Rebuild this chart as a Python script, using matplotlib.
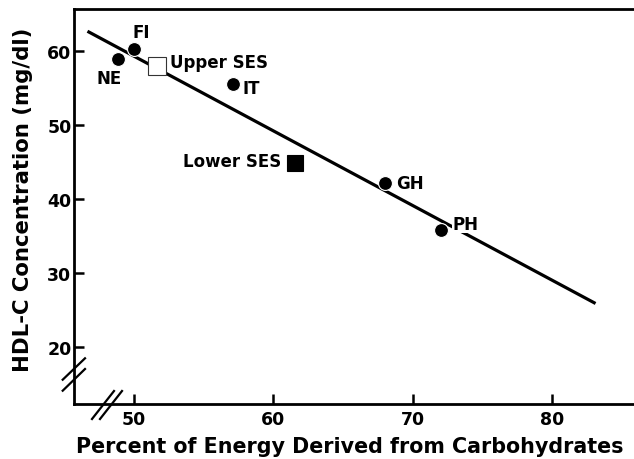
import matplotlib.pyplot as plt
from matplotlib.lines import Line2D

plt.rcParams['font.family'] = ['DejaVu Sans']
plt.rcParams['font.weight'] = 'bold'

# country means (circles)
countries = ['NE', 'FI', 'IT', 'GH', 'PH']
carb_pct = [48.9, 50.0, 57.1, 68.0, 72.0]
hdl = [58.9, 60.2, 55.5, 42.2, 35.8]

# socio-economic groups (squares)
ses_names = ['Upper SES', 'Lower SES']
ses_carb = [51.65, 61.6]
ses_hdl = [57.85, 44.8]

# regression line end points
fit_x = [46.7, 83.1]
fit_y = [62.6, 25.9]

xticks = [50, 60, 70, 80]
yticks = [20, 30, 40, 50, 60]

W, H = 634, 460
fig = plt.figure(figsize=(W / 100, H / 100), dpi=100)
ax_l, ax_b, ax_t = 73.5, 405, 10
ax = fig.add_axes([ax_l / W, 1 - ax_b / H, 1 - ax_l / W + 0.001, (ax_b - ax_t) / H])

ax.plot(fit_x, fit_y, color='black', lw=2.3, solid_capstyle='butt', zorder=2)

ax.plot(carb_pct, hdl, 'o', color='black', ms=10, mec='white', mew=0.8, zorder=3)
ax.plot(ses_carb[0], ses_hdl[0], 's', mfc='white', mec='#333333', mew=0.8, ms=13, zorder=3)
ax.plot(ses_carb[1], ses_hdl[1], 's', mfc='black', mec='black', mew=0.8, ms=12, zorder=3)

fs = 12
offsets = {'NE': (-6.5, -13.9, 'center'), 'FI': (5.8, 12.5, 'center'),
           'IT': (6.8, -2.9, 'left'), 'GH': (8.0, 0.0, 'left'), 'PH': (8.4, 4.5, 'left')}
for name, x, y in zip(countries, carb_pct, hdl):
    dx, dy, ha = offsets[name]
    kw = {}
    if name == 'PH':
        kw['bbox'] = dict(facecolor='white', edgecolor='none', pad=0.5)
    ax.annotate(name, (x, y), xytext=(dx, dy), textcoords='offset points',
                ha=ha, va='center', fontsize=fs, fontweight='bold', zorder=4, **kw)

ax.annotate(ses_names[0], (ses_carb[0], ses_hdl[0]), xytext=(9.9, 3.2), textcoords='offset points',
            ha='left', va='center', fontsize=fs, fontweight='bold')
ax.annotate(ses_names[1], (ses_carb[1], ses_hdl[1]), xytext=(-10, 1.9), textcoords='offset points',
            ha='right', va='center', fontsize=fs, fontweight='bold')

ax.set_xlim(45.7, 85.9)
ax.set_ylim(12.35, 65.6)
ax.set_xticks(xticks)
ax.set_yticks(yticks)
ax.tick_params(direction='in', length=7, width=1.8, labelsize=12.5)
ax.tick_params(axis='y', pad=1.5)
ax.tick_params(axis='x', pad=4)
for lab in ax.get_xticklabels() + ax.get_yticklabels():
    lab.set_fontweight('bold')
for side in ['left', 'bottom', 'top']:
    ax.spines[side].set_linewidth(2)
ax.spines['right'].set_visible(False)

ax.set_xlabel('Percent of Energy Derived from Carbohydrates', fontsize=14.9, fontweight='bold')
ax.xaxis.set_label_coords(0.493, -0.082)
ax.set_ylabel('HDL-C Concentration (mg/dl)', fontsize=15.3, fontweight='bold')
ax.yaxis.set_label_coords(-0.072, 0.52)

# axis break marks (figure pixel positions)
def px(x, y):
    return x / W, 1 - y / H

for (x0, y0, x1, y1) in [(62.7, 380.7, 85, 359.3), (62.7, 391.7, 85, 370),
                         (92, 420, 114, 392), (100, 420, 122, 392)]:
    a, b = px(x0, y0)
    c, d = px(x1, y1)
    fig.add_artist(Line2D([a, c], [b, d], transform=fig.transFigure, color='black', lw=1.6))

fig.savefig('out.png', dpi=100)
